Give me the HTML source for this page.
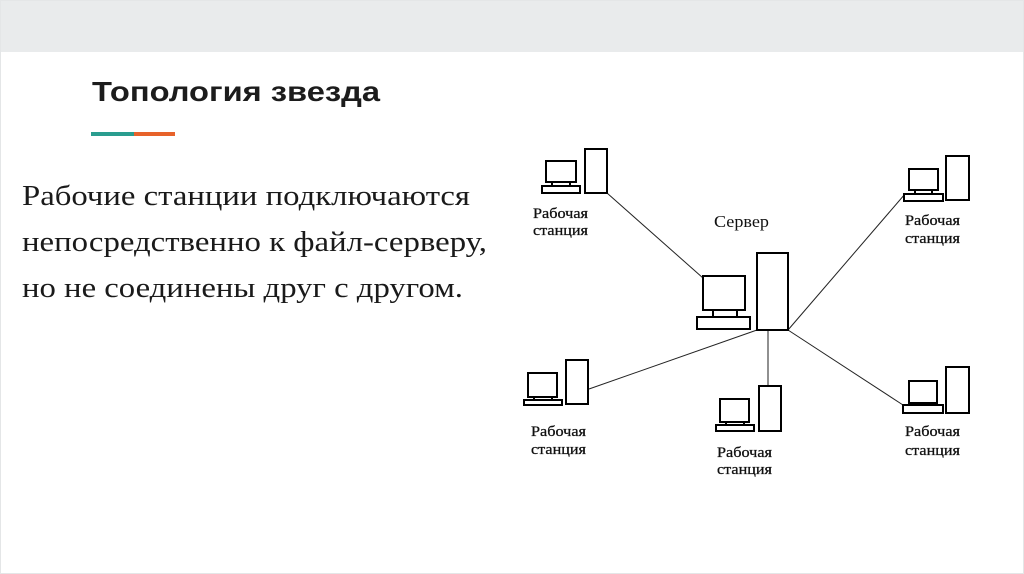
<!DOCTYPE html>
<html><head><meta charset="utf-8"><style>
html,body{margin:0;padding:0;background:#fff;}
svg{display:block;}
</style></head><body>
<svg width="1024" height="574" viewBox="0 0 1024 574" xmlns="http://www.w3.org/2000/svg">
<rect x="0" y="0" width="1024" height="574" fill="#fff"/>
<rect x="0" y="0" width="1024" height="52" fill="#e9ebec"/>
<rect x="0.5" y="0.5" width="1023" height="573" fill="none" stroke="#e4e6e7"/>
<text x="92" y="101" font-family="Liberation Sans, sans-serif" font-weight="bold" font-size="28" fill="#1c1c1c" textLength="288" lengthAdjust="spacingAndGlyphs">Топология звезда</text>
<rect x="91" y="132" width="43" height="4" fill="#2a9d8f"/>
<rect x="134" y="132" width="41" height="4" fill="#e7622a"/>
<g font-family="Liberation Serif, serif" font-size="28" fill="#1a1a1a">
<text x="22" y="205" textLength="448" lengthAdjust="spacingAndGlyphs">Рабочие станции подключаются</text>
<text x="22" y="251" textLength="465" lengthAdjust="spacingAndGlyphs">непосредственно к файл-серверу,</text>
<text x="22" y="297" textLength="441" lengthAdjust="spacingAndGlyphs">но не соединены друг с другом.</text>
</g>
<g stroke="#222" stroke-width="1" fill="none">
<line x1="607" y1="193" x2="703" y2="278"/>
<line x1="757" y1="330" x2="589" y2="389"/>
<line x1="768" y1="330" x2="768" y2="386"/>
<line x1="788" y1="330" x2="903" y2="405"/>
<line x1="788" y1="330" x2="905" y2="194"/>
</g>
<g stroke="#000" stroke-width="2" fill="#fff">
<rect x="546" y="161" width="30" height="21"/><rect x="552" y="182" width="18" height="4"/><rect x="542" y="186" width="38" height="7"/><rect x="585" y="149" width="22" height="44"/>
<rect x="703" y="276" width="42" height="34"/><rect x="713" y="310" width="24" height="7"/><rect x="697" y="317" width="53" height="12"/><rect x="757" y="253" width="31" height="77"/>
<rect x="528" y="373" width="29" height="24"/><rect x="534" y="397" width="18" height="3"/><rect x="524" y="400" width="38" height="5"/><rect x="566" y="360" width="22" height="44"/>
<rect x="720" y="399" width="29" height="23"/><rect x="726" y="422" width="18" height="3"/><rect x="716" y="425" width="38" height="6"/><rect x="759" y="386" width="22" height="45"/>
<rect x="909" y="381" width="28" height="22"/><rect x="914" y="403" width="18" height="2"/><rect x="903" y="405" width="40" height="8"/><rect x="946" y="367" width="23" height="46"/>
<rect x="909" y="169" width="29" height="21"/><rect x="915" y="190" width="17" height="4"/><rect x="904" y="194" width="39" height="7"/><rect x="946" y="156" width="23" height="44"/>
</g>
<g font-family="Liberation Serif, serif" font-size="15" fill="#111" stroke="#111" stroke-width="0.3">
<text x="533" y="218" textLength="55" lengthAdjust="spacingAndGlyphs">Рабочая</text><text x="533" y="235" textLength="55" lengthAdjust="spacingAndGlyphs">станция</text>
<text x="905" y="225" textLength="55" lengthAdjust="spacingAndGlyphs">Рабочая</text><text x="905" y="243" textLength="55" lengthAdjust="spacingAndGlyphs">станция</text>
<text x="531" y="436" textLength="55" lengthAdjust="spacingAndGlyphs">Рабочая</text><text x="531" y="454" textLength="55" lengthAdjust="spacingAndGlyphs">станция</text>
<text x="717" y="457" textLength="55" lengthAdjust="spacingAndGlyphs">Рабочая</text><text x="717" y="474" textLength="55" lengthAdjust="spacingAndGlyphs">станция</text>
<text x="905" y="436" textLength="55" lengthAdjust="spacingAndGlyphs">Рабочая</text><text x="905" y="455" textLength="55" lengthAdjust="spacingAndGlyphs">станция</text>
<text x="714" y="227" font-size="17" stroke-width="0" textLength="55" lengthAdjust="spacingAndGlyphs">Сервер</text>
</g>
</svg>
</body></html>
